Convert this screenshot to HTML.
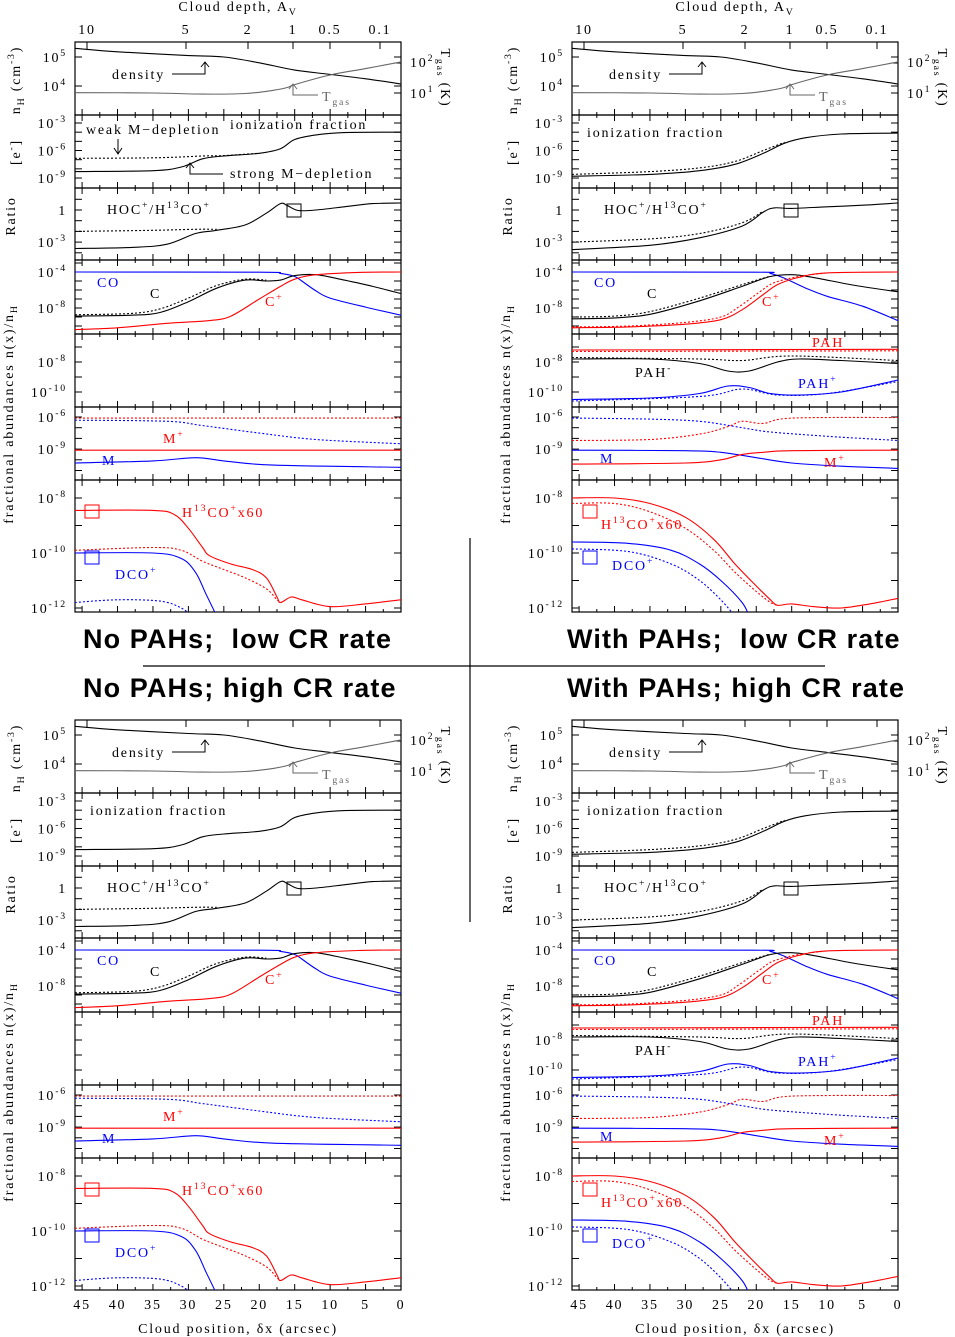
<!DOCTYPE html>
<html><head><meta charset="utf-8"><style>
html,body{margin:0;padding:0;background:#fff;}
svg{display:block;}
.t{font-family:"Liberation Serif",serif;font-size:14px;letter-spacing:1.8px;}
.title{font-family:"Liberation Sans",sans-serif;font-weight:bold;font-size:27px;letter-spacing:1.1px;}
</style></head><body>
<svg id="fig" width="955" height="1337" viewBox="0 0 955 1337" xmlns="http://www.w3.org/2000/svg"></svg>
<script>
// ---------- data (dx arcsec, log10 value) ----------
const densCurve=[[46,5.3],[40,5.18],[30,5.05],[25,5.0],[20,4.8],[15,4.55],[10,4.4],[5,4.25],[0,4.07]];
const tgasCurve=[[46,3.77],[35,3.76],[28,3.72],[22,3.74],[18,3.85],[16,3.95],[15,4.05],[10,4.38],[5,4.6],[0,4.83]];
const ionL=[[46,-8.3],[35,-8.2],[31,-7.8],[28,-6.9],[25,-6.6],[20,-6.3],[17,-5.8],[15,-4.8],[12,-4.3],[8,-4.05],[0,-4.0]];
const ionLdot=[[46,-6.85],[35,-6.8],[28,-6.6],[25,-6.55],[20,-6.3]];
const ratioL=[[46,-3.6],[38,-3.5],[33,-3.2],[29,-2.2],[26,-1.9],[22,-1.4],[19,-0.3],[17,0.6],[16,0.4],[14.5,-0.05],[12,0],[8,0.3],[4,0.6],[0,0.65]];
const ratioLdot=[[46,-2.0],[35,-1.9],[29,-1.8],[26,-1.8]];
const coL=[[46,-4],[20,-4.02],[17,-4.15],[15,-4.5],[14,-5],[12,-6.1],[10,-6.9],[5,-7.9],[0,-8.8]];
const cL=[[46,-8.9],[38,-8.8],[34,-8.5],[30,-7.3],[26,-5.8],[22,-4.9],[19,-5.0],[17,-4.9],[15,-4.4],[12,-4.3],[8,-4.9],[4,-5.6],[0,-6.4]];
const cLdot=[[46,-8.75],[38,-8.6],[34,-8.1],[30,-6.9],[26,-5.5],[22,-4.8],[19,-4.9]];
const cpL=[[46,-10.4],[40,-10.2],[33,-9.7],[27,-9.4],[24,-8.9],[20,-7],[17,-5.6],[15,-4.8],[12,-4.3],[6,-4.05],[0,-4.0]];
const mpL=[[46,-9.1],[0,-9.1]];
const mpLdot=[[46,-6.1],[0,-6.1]];
const mL=[[46,-10.3],[35,-10.1],[29,-9.8],[25,-10.1],[18,-10.5],[0,-10.7]];
const mLdot=[[46,-6.3],[33,-6.4],[28,-6.8],[20,-7.5],[12,-8.1],[0,-8.5]];
const h13L=[[46,-8.45],[35,-8.45],[32,-8.6],[30,-9.1],[28,-9.8],[27,-10.1],[24,-10.4],[21,-10.6],[19,-10.9],[17.5,-11.6],[17,-11.8],[15.5,-11.6],[14,-11.7],[10,-11.95],[5,-11.85],[0,-11.7]];
const h13Ldot=[[46,-9.9],[35,-9.8],[31,-9.9],[28,-10.3],[25,-10.6],[22,-10.9],[19,-11.3],[17.5,-11.7],[17,-11.8]];
const dcoL=[[46,-10.0],[35,-10.0],[31,-10.2],[29,-10.7],[27.5,-11.5],[26,-12.3]];
const dcoLdot=[[46,-11.8],[40,-11.7],[34,-11.75],[31,-12],[29,-12.4]];
const ionR=[[46,-8.8],[35,-8.6],[28,-8.2],[23,-7.5],[19,-6.3],[16,-5.2],[13,-4.6],[8,-4.2],[0,-4.1]];
const ionRdot=[[46,-8.6],[35,-8.3],[28,-7.9],[23,-7.2],[19,-6.0],[16,-5.1]];
const ratioR=[[46,-3.7],[35,-3.3],[28,-2.6],[22,-1.5],[19,-0.2],[17.5,0.2],[15,0.15],[10,0.3],[5,0.45],[0,0.65]];
const ratioRdot=[[46,-3.0],[35,-2.7],[28,-2.2],[22,-1.2],[19,-0.1]];
const coR=[[46,-4],[20,-4.02],[18,-4.15],[16,-4.7],[13,-5.8],[10,-6.7],[5,-7.8],[0,-9.4]];
const cR=[[46,-9.2],[40,-9.1],[35,-8.7],[28,-7.2],[22,-5.6],[18,-4.5],[15,-4.3],[12,-4.6],[6,-5.5],[0,-6.2]];
const cRdot=[[46,-9.0],[40,-8.9],[35,-8.4],[28,-6.9],[22,-5.4],[18,-4.45]];
const cpR=[[46,-10.2],[38,-10.1],[30,-9.8],[25,-9.3],[22,-8.2],[19,-6.5],[17,-5.4],[14,-4.6],[10,-4.1],[0,-4.0]];
const cpRdot=[[46,-10.1],[38,-10.0],[30,-9.6],[25,-9.0],[22.5,-7.9],[19.5,-6.2],[17.5,-5.2],[14,-4.5],[10,-4.1]];
const pahR=[[46,-7.2],[0,-7.15]];
const pahRdot=[[46,-7.3],[0,-7.25]];
const pahmR=[[46,-7.8],[35,-7.8],[28,-8.1],[24,-8.6],[21,-8.6],[17,-8.0],[14,-7.8],[8,-7.9],[0,-8.1]];
const pahmRdot=[[46,-7.7],[28,-7.8],[22,-7.9],[15,-7.6],[0,-7.9]];
const pahpR=[[46,-10.5],[35,-10.4],[28,-10.1],[24,-9.6],[21,-9.7],[18,-10.1],[14,-10.2],[8,-10.0],[0,-9.2]];
const pahpRdot=[[46,-10.6],[28,-10.3],[22,-9.8],[17,-10.2],[10,-10.1],[0,-9.3]];
const mR=[[46,-9.1],[30,-9.15],[25,-9.3],[20,-9.8],[15,-10.3],[8,-10.6],[0,-10.8]];
const mRdot=[[46,-6.1],[35,-6.2],[28,-6.4],[22,-7.0],[18,-7.4],[10,-7.8],[0,-8.2]];
const mpR=[[46,-10.4],[30,-10.3],[25,-10.0],[22,-9.5],[19,-9.3],[15,-9.15],[0,-9.1]];
const mpRdot=[[46,-8.2],[35,-8.1],[28,-7.6],[24,-6.9],[22,-6.4],[19,-6.6],[15,-6.1],[0,-6.05]];
const h13R=[[46,-8],[40,-8],[35,-8.2],[30,-8.7],[26,-9.5],[23,-10.4],[20,-11.2],[18,-11.7],[17,-11.9],[15,-11.85],[12,-11.95],[8,-12.0],[4,-11.85],[0,-11.65]];
const h13Rdot=[[46,-8.2],[40,-8.2],[35,-8.5],[30,-9.1],[26,-9.9],[23,-10.7],[20,-11.4],[18,-11.8],[17,-11.9]];
const dcoR=[[46,-9.6],[38,-9.65],[32,-9.9],[28,-10.4],[25,-11.0],[22,-11.8],[21,-12.3]];
const dcoRdot=[[46,-9.85],[38,-9.95],[32,-10.4],[28,-11.0],[25,-11.7],[23,-12.3]];
const xTicks=[45,40,35,30,25,20,15,10,5,0];
const avTicks=[["10",87],["5",186],["2",248],["1",293],["0.5",330],["0.1",380]];

// ---------- drawing ----------
const NS='http://www.w3.org/2000/svg';
const svg=document.getElementById('fig');
function mk(tag,name,attrs,parent){
  const el=document.createElementNS(NS,tag);
  for(const k in attrs) el.setAttribute(k,attrs[k]);
  
  
  (parent||svg).appendChild(el);
  return el;
}
function txt(x,y,s,name,o){
  o=o||{};
  const t=mk('text',name,{x:x,y:y,'class':o.cls||'t',fill:o.fill||'#000','text-anchor':o.anchor||'start'});
  t.setAttributeNS('http://www.w3.org/XML/1998/namespace','xml:space','preserve');
  if(o.size) t.setAttribute('font-size',o.size);
  if(o.rot) t.setAttribute('transform','rotate('+o.rot+' '+x+' '+y+')');
  const parts=s.split(/(\^\{[^}]*\}|_\{[^}]*\})/);
  let shift=0;
  parts.forEach(p=>{
    if(!p) return;
    const ts=document.createElementNS(NS,'tspan');
    if(p[0]==='^'||p[0]==='_'){
      const d=p[0]==='^'?-6:4;
      ts.textContent=p.slice(2,-1);ts.setAttribute('font-size','70%');ts.setAttribute('dy',d-shift);shift=d;
    } else {ts.textContent=p; if(shift){ts.setAttribute('dy',-shift);shift=0;}}
    t.appendChild(ts);
  });
  return t;
}
const SUB={dens:{top:0,h:73,ref:5,refy:15,ppd:29},ion:{top:73,h:73,ref:-3,refy:81,ppd:9.17},
 ratio:{top:146,h:72,ref:0,refy:168,ppd:10.7},co:{top:218,h:74,ref:-4,refy:230,ppd:9},
 pah:{top:292,h:73,ref:-8,refy:320,ppd:15},m:{top:365,h:73,ref:-6,refy:375,ppd:10.7},
 h13:{top:438,h:132,ref:-8,refy:456,ppd:27.5}};
const W=326;
function X(ox,dx){return ox+(46-dx)*W/46;}
function Y(oy,s,v){return oy+s.refy-(v-s.ref)*s.ppd;}
let clipN=0;
function curve(P,key,data,color,dotted,name){
  const s=SUB[key];
  const cid='c'+(clipN++);
  const cp=mk('clipPath','clip',{id:cid});
  mk('rect','clip-rect',{x:P.ox,y:P.oy+s.top,width:W,height:s.h},cp);
  const pts=data.map(p=>[X(P.ox,p[0]),Y(P.oy,s,p[1])]);
  let d='M'+pts[0][0].toFixed(1)+' '+pts[0][1].toFixed(1);
  for(let i=0;i<pts.length-1;i++){
    const p0=pts[Math.max(0,i-1)],p1=pts[i],p2=pts[i+1],p3=pts[Math.min(pts.length-1,i+2)];
    const c1=[p1[0]+(p2[0]-p0[0])/6,p1[1]+(p2[1]-p0[1])/6];
    const c2=[p2[0]-(p3[0]-p1[0])/6,p2[1]-(p3[1]-p1[1])/6];
    d+=' C'+c1[0].toFixed(1)+' '+c1[1].toFixed(1)+' '+c2[0].toFixed(1)+' '+c2[1].toFixed(1)+' '+p2[0].toFixed(1)+' '+p2[1].toFixed(1);
  }
  const a={d:d,fill:'none',stroke:color,'stroke-width':1.1,'clip-path':'url(#'+cid+')'};
  if(dotted) a['stroke-dasharray']='2 2';
  mk('path',name,a);
}
function frame(P){
  const ox=P.ox,oy=P.oy;
  for(const k in SUB){
    const s=SUB[k];
    mk('rect','subpanel-'+k,{x:ox,y:oy+s.top,width:W,height:s.h,fill:'none',stroke:'#000','stroke-width':1.2});
    for(let dx=45;dx>=0;dx-=2.5){
      const x=X(ox,dx),L=(dx%5===0)?6:3;
      mk('line','x-tick',{x1:x,x2:x,y1:oy+s.top+s.h,y2:oy+s.top+s.h-L,stroke:'#000'});
      if(k!=='dens') mk('line','x-tick',{x1:x,x2:x,y1:oy+s.top,y2:oy+s.top+L,stroke:'#000'});
    }
    for(let v=-14;v<=7;v++){
      const y=Y(oy,s,v);
      if(y>oy+s.top+1&&y<oy+s.top+s.h-1){
        mk('line','y-tick',{x1:ox,x2:ox+7,y1:y,y2:y,stroke:'#000'});
        mk('line','y-tick',{x1:ox+W,x2:ox+W-7,y1:y,y2:y,stroke:'#000'});
      }
    }
  }
  avTicks.forEach(a=>{const x=a[1]-75+ox;mk('line','av-tick',{x1:x,x2:x,y1:oy,y2:oy+7,stroke:'#000'});});
}
function ylabels(P,pah){
  const ox=P.ox-8,oy=P.oy;
  const lab=[['dens',5,'10^{5}'],['dens',4,'10^{4}'],['ion',-3,'10^{-3}'],['ion',-6,'10^{-6}'],['ion',-9,'10^{-9}'],
   ['ratio',0,'1'],['ratio',-3,'10^{-3}'],['co',-4,'10^{-4}'],['co',-8,'10^{-8}'],['m',-6,'10^{-6}'],['m',-9,'10^{-9}'],
   ['h13',-8,'10^{-8}'],['h13',-10,'10^{-10}'],['h13',-12,'10^{-12}']];
  if(pah){lab.push(['pah',-8,'10^{-8}']);lab.push(['pah',-10,'10^{-10}']);}
  lab.forEach(l=>txt(ox,Y(oy,SUB[l[0]],l[1])+5,l[2],'y-tick-label',{anchor:'end'}));
  const lx=P.ox-57;
  txt(lx+2,oy+38,'n_{H} (cm^{-3})','y-axis-title-density',{rot:-90,anchor:'middle'});
  txt(lx+2,oy+110,'[e^{-}]','y-axis-title-electron',{rot:-90,anchor:'middle'});
  txt(lx-3,oy+174,'Ratio','y-axis-title-ratio',{rot:-90,anchor:'middle'});
  txt(lx-5,oy+372,'fractional abundances n(x)/n_{H}','y-axis-title-abundance',{rot:-90,anchor:'middle'});
  txt(P.ox+W+9,oy+25,'10^{2}','tgas-tick-label');
  txt(P.ox+W+9,oy+56,'10^{1}','tgas-tick-label');
  txt(P.ox+W+40,oy+36,'T_{gas} (K)','tgas-axis-title',{rot:90,anchor:'middle'});
  mk('line','tgas-tick',{x1:P.ox+W,x2:P.ox+W-7,y1:oy+21,y2:oy+21,stroke:'#000'});
  mk('line','tgas-tick',{x1:P.ox+W,x2:P.ox+W-7,y1:oy+51,y2:oy+51,stroke:'#000'});
}
function arrowUp(x1,y1,x2,y2,name,col){
  col=col||'#000';
  mk('path',name,{d:'M'+x1+' '+y1+' L'+x2+' '+y1+' L'+x2+' '+y2+' M'+(x2-4)+' '+(y2+5)+' L'+x2+' '+y2+' L'+(x2+4)+' '+(y2+5),fill:'none',stroke:col,'stroke-width':1});
}
function box(x,y,col,name){mk('rect',name,{x:x,y:y,width:14,height:13,fill:'none',stroke:col,'stroke-width':1});}

const panels=[
 {ox:75,oy:42,pah:false,high:false,title:'No PAHs;\u00a0\u00a0low CR rate',tx:83,ty:648},
 {ox:572,oy:42,pah:true,high:false,title:'With PAHs;\u00a0\u00a0low CR rate',tx:567,ty:648},
 {ox:75,oy:720,pah:false,high:true,title:'No PAHs; high CR rate',tx:83,ty:697},
 {ox:572,oy:720,pah:true,high:true,title:'With PAHs; high CR rate',tx:567,ty:697}];
const RED='#f00',BLUE='#00f',GRAY='#666';
panels.forEach((P,i)=>{
  const ox=P.ox,oy=P.oy,dX=ox-75,dY=oy-42;
  frame(P);
  ylabels(P,!P.pah&&!P.high||P.pah);
  curve(P,'dens',densCurve,'#000',false,'density-line');
  curve(P,'dens',tgasCurve,GRAY,false,'tgas-line');
  if(!P.pah){
    curve(P,'ion',ionL,'#000',false,'ionization-line');
    if(!P.high) curve(P,'ion',ionLdot,'#000',true,'ionization-weak-depletion-line');
    curve(P,'ratio',ratioL,'#000',false,'ratio-line');curve(P,'ratio',ratioLdot,'#000',true,'ratio-weak-line');
    curve(P,'co',coL,BLUE,false,'co-line');curve(P,'co',cL,'#000',false,'c-line');curve(P,'co',cLdot,'#000',true,'c-weak-line');
    curve(P,'co',cpL,RED,false,'cplus-line');
    curve(P,'m',mpL,RED,false,'mplus-line');curve(P,'m',mpLdot,RED,true,'mplus-weak-line');
    curve(P,'m',mL,BLUE,false,'m-line');curve(P,'m',mLdot,BLUE,true,'m-weak-line');
    curve(P,'h13',h13L,RED,false,'h13co-line');curve(P,'h13',h13Ldot,RED,true,'h13co-weak-line');
    curve(P,'h13',dcoL,BLUE,false,'dco-line');curve(P,'h13',dcoLdot,BLUE,true,'dco-weak-line');
    txt(163+dX,443+dY,'M^{+}','label-mplus',{fill:RED});
    txt(102+dX,465+dY,'M','label-m',{fill:BLUE});
    txt(182+dX,517+dY,'H^{13}CO^{+}x60','label-h13co',{fill:RED});
    txt(115+dX,579+dY,'DCO^{+}','label-dco',{fill:BLUE});
    box(85+dX,505+dY,RED,'legend-box-h13co');box(85+dX,551+dY,BLUE,'legend-box-dco');
  } else {
    curve(P,'ion',ionR,'#000',false,'ionization-line');curve(P,'ion',ionRdot,'#000',true,'ionization-weak-line');
    curve(P,'ratio',ratioR,'#000',false,'ratio-line');curve(P,'ratio',ratioRdot,'#000',true,'ratio-weak-line');
    curve(P,'co',coR,BLUE,false,'co-line');curve(P,'co',cR,'#000',false,'c-line');curve(P,'co',cRdot,'#000',true,'c-weak-line');
    curve(P,'co',cpR,RED,false,'cplus-line');curve(P,'co',cpRdot,RED,true,'cplus-weak-line');
    curve(P,'pah',pahR,RED,false,'pah-line');curve(P,'pah',pahRdot,RED,true,'pah-weak-line');
    curve(P,'pah',pahmR,'#000',false,'pahminus-line');curve(P,'pah',pahmRdot,'#000',true,'pahminus-weak-line');
    curve(P,'pah',pahpR,BLUE,false,'pahplus-line');curve(P,'pah',pahpRdot,BLUE,true,'pahplus-weak-line');
    curve(P,'m',mR,BLUE,false,'m-line');curve(P,'m',mRdot,BLUE,true,'m-weak-line');
    curve(P,'m',mpR,RED,false,'mplus-line');curve(P,'m',mpRdot,RED,true,'mplus-weak-line');
    curve(P,'h13',h13R,RED,false,'h13co-line');curve(P,'h13',h13Rdot,RED,true,'h13co-weak-line');
    curve(P,'h13',dcoR,BLUE,false,'dco-line');curve(P,'h13',dcoRdot,BLUE,true,'dco-weak-line');
    txt(812,347+dY,'PAH','label-pah',{fill:RED});
    txt(635,377+dY,'PAH^{-}','label-pahminus');
    txt(798,388+dY,'PAH^{+}','label-pahplus',{fill:BLUE});
    txt(600,463+dY,'M','label-m',{fill:BLUE});
    txt(824,467+dY,'M^{+}','label-mplus',{fill:RED});
    txt(601,529+dY,'H^{13}CO^{+}x60','label-h13co',{fill:RED});
    txt(612,570+dY,'DCO^{+}','label-dco',{fill:BLUE});
    box(583,505+dY,RED,'legend-box-h13co');box(583,551+dY,BLUE,'legend-box-dco');
  }
  txt(112+dX,79+dY,'density','label-density');
  arrowUp(172+dX,74+dY,205+dX,62+dY,'density-arrow');
  txt(322+dX,101+dY,'T_{gas}','label-tgas',{fill:GRAY});
  arrowUp(318+dX,95+dY,293+dX,84+dY,'tgas-arrow',GRAY);
  if(!P.pah&&!P.high){
    txt(230,129,'ionization fraction','label-ionization');
    txt(86,134,'weak M\u2212depletion','label-weak-depletion');
    mk('path','weak-arrow',{d:'M118 139 L118 153 M114 148 L118 154 L122 148',fill:'none',stroke:'#000'});
    txt(230,178,'strong M\u2212depletion','label-strong-depletion');
    arrowUp(223,174,190,163,'strong-arrow');
  } else txt(90+dX,137+dY,'ionization fraction','label-ionization');
  txt(107+dX,214+dY,'HOC^{+}/H^{13}CO^{+}','label-ratio');
  box(287+dX,204+dY,'#000','ratio-marker-box');
  txt(97+dX,287+dY,'CO','label-co',{fill:BLUE});
  txt(150+dX,298+dY,'C','label-c');
  txt(265+dX,306+dY,'C^{+}','label-cplus',{fill:RED});
  if(!P.high){
    avTicks.forEach(a=>txt(a[1]+dX,34,a[0],'av-tick-label',{anchor:'middle'}));
    txt(238+dX,11,'Cloud depth, A_{V}','top-axis-title',{anchor:'middle'});
  } else {
    xTicks.forEach(v=>txt(X(ox,v),1309,String(v),'x-tick-label',{anchor:'middle'}));
    txt(238+dX,1333,'Cloud position, \u03b4x (arcsec)','x-axis-title',{anchor:'middle'});
  }
  txt(P.tx,P.ty,P.title,'panel-title',{cls:'title'});
});
mk('line','divider-horizontal',{x1:143,x2:825,y1:666,y2:666,stroke:'#000','stroke-width':1.2});
mk('line','divider-vertical',{x1:470,x2:470,y1:538,y2:922,stroke:'#000','stroke-width':1.2});
</script>
</body></html>
